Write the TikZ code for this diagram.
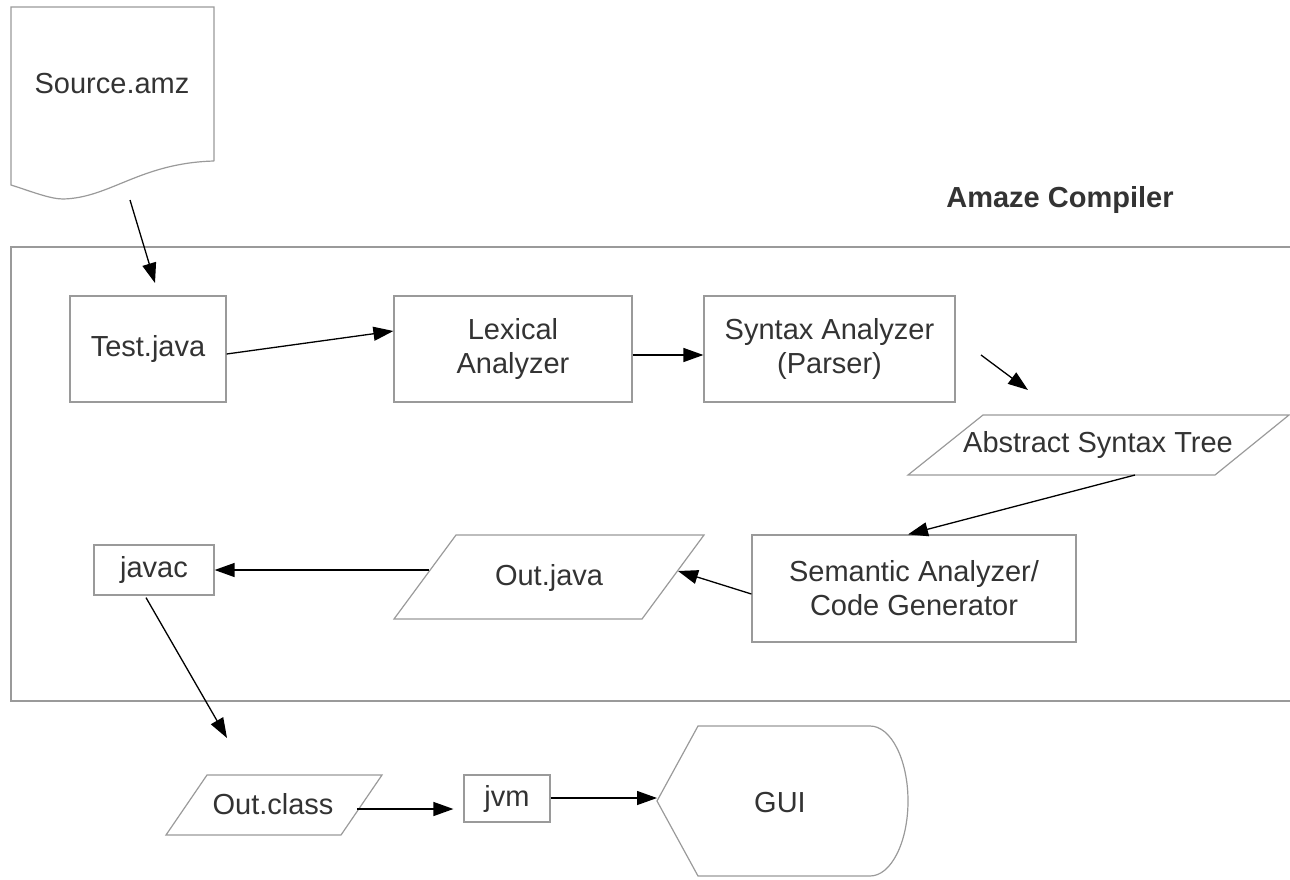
\documentclass[tikz,border=0pt]{standalone}
\usepackage{fontspec}
\setmainfont{Liberation Sans}
\usetikzlibrary{arrows.meta,calc}
\definecolor{txt}{HTML}{333333}
\definecolor{edgegray}{HTML}{9A9A9A}
\begin{document}
\begin{tikzpicture}[x=1pt,y=-1pt,
  box/.style={draw=edgegray,line width=1.2pt,fill=white,text=txt,align=center,
    font=\fontsize{29}{34}\selectfont,inner sep=0pt},
  lbl/.style={text=txt,align=center,font=\fontsize{29}{34}\selectfont,inner sep=0pt},
  shp/.style={draw=edgegray,line width=1.2pt,line join=miter},
  arr/.style={draw=black,line width=1.3pt,-{Triangle[length=20pt,width=14pt]}}]
\useasboundingbox (0,0) rectangle (1290,879);
\clip (0,0) rectangle (1290,879);

% compiler frame
\draw[shp] (1300,247) -- (11,247) -- (11,701) -- (1300,701);
\node[lbl,font=\fontsize{29}{34}\selectfont\bfseries] (title) at (1060,200) {Amaze Compiler};

% Source document
\draw[shp] (214,161) -- (214,7) -- (11,7) -- (11,185)
  .. controls (30,191) and (50,199) .. (63,199)
  .. controls (110,198) and (140,163) .. (214,161);
\node[lbl] (src) at (112,84) {Source.amz};
\coordinate (srcbot) at (130,200);
\coordinate (srcend) at (155,283);

% boxes
\node[box,minimum width=156pt,minimum height=106pt] (test) at (148,349) {Test.java};
\node[box,minimum width=238pt,minimum height=106pt] (lex) at (513,349) {Lexical\\Analyzer};
\node[box,minimum width=251pt,minimum height=106pt] (syn) at (829.5,349) {Syntax Analyzer\\(Parser)};
\node[box,minimum width=324pt,minimum height=107pt] (sem) at (914,588.5) {Semantic Analyzer/\\Code Generator};
\node[box,minimum width=120pt,minimum height=50pt] (javac) at (154,570) {javac};
\node[box,minimum width=86pt,minimum height=47pt] (jvm) at (507,798.5) {jvm};

% Abstract Syntax Tree (parallelogram)
\coordinate (ast1) at (983,415); \coordinate (ast2) at (1289,415);
\coordinate (ast3) at (1215,475); \coordinate (ast4) at (908,475);
\draw[shp] (ast1) -- (ast2) -- (ast3) -- (ast4) -- cycle;
\node[lbl] (ast) at (1098,445) {Abstract Syntax Tree};

% Out.java (parallelogram)
\coordinate (oj1) at (456,535); \coordinate (oj2) at (704,535);
\coordinate (oj3) at (642,619); \coordinate (oj4) at (394,619);
\draw[shp] (oj1) -- (oj2) -- (oj3) -- (oj4) -- cycle;
\node[lbl] (outj) at (549,578) {Out.java};

% Out.class (parallelogram)
\coordinate (oc1) at (207,775); \coordinate (oc2) at (382,775);
\coordinate (oc3) at (341,835); \coordinate (oc4) at (166,835);
\draw[shp] (oc1) -- (oc2) -- (oc3) -- (oc4) -- cycle;
\node[lbl] (outc) at (273,804) {Out.class};

% GUI display shape
\draw[shp] (657,801) -- (698,726) -- (870,726)
  arc[start angle=-90,end angle=90,x radius=38,y radius=75] -- (698,876) -- cycle;
\node[lbl] (gui) at (780,803) {GUI};

% connectors
\draw[arr] (srcbot) -- (srcend);
\draw[arr] ($(test.east)+(0,5)$) -- ($(lex.west)+(0,-18)$);
\draw[arr] ($(lex.east)+(0,6)$) -- ($(syn.west)+(0,6)$);
\coordinate (fa1) at (981,355); \coordinate (fa2) at (1028,390);
\draw[arr] (fa1) -- (fa2);
\coordinate (astout) at (1135,475);
\draw[arr] (astout) -- ($(sem.north)+(-6,0)$);
\coordinate (ojin) at (678,571); \coordinate (ojout) at (429,570);
\draw[arr] ($(sem.west)+(0,5.5)$) -- (ojin);
\draw[arr] (ojout) -- (javac.east);
\coordinate (ocin) at (227,738);
\draw[arr] ($(javac.south)+(-8,2)$) -- (ocin);
\coordinate (ocout) at (357,809);
\draw[arr] (ocout) -- ($(jvm.west)+(-10,10.5)$);
\draw[arr] ($(jvm.east)+(0,-0.5)$) -- (657,798);
\end{tikzpicture}
\end{document}
